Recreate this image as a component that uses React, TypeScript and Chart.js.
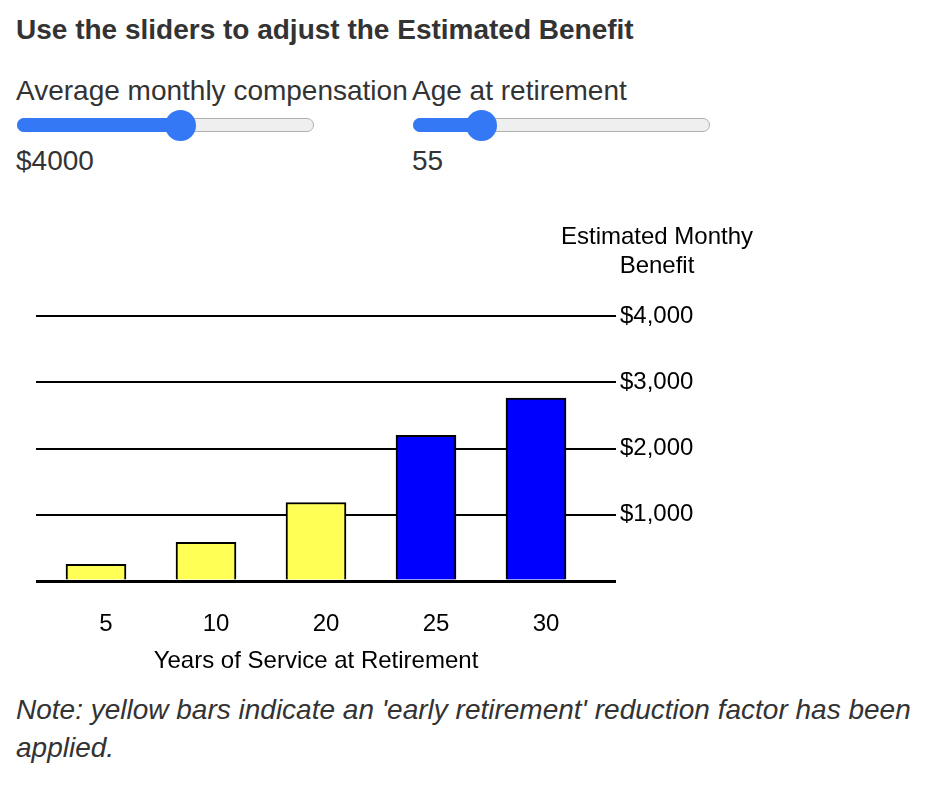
import React, { useEffect, useRef } from "react";
import { Chart, registerables } from "chart.js";

Chart.register(...registerables);

// ---- data ----
const yearsOfService = ["5", "10", "20", "25", "30"];
const monthlyBenefit = [250, 585, 1185, 2200, 2760];
const earlyRetirement = [true, true, true, false, false];
const yTickValues = [0, 1000, 2000, 3000, 4000];
const yAxisTitle = ["Estimated Monthy", "Benefit"];
const xAxisTitle = "Years of Service at Retirement";

const compensation = 4000;
const compensationRange = [1000, 6400];
const retirementAge = 55;
const retirementAgeRange = [50, 75];

const FONT = '"Liberation Sans", Arial, Helvetica, sans-serif';
const YELLOW = "#ffff55";
const BLUE = "#0000ff";

const yTitlePlugin = {
  id: "yTitleAbove",
  afterDraw(chart: any) {
    const { ctx, chartArea } = chart;
    const ys = chart.scales.y;
    ctx.save();
    ctx.font = `24px ${FONT}`;
    ctx.fillStyle = "#000";
    ctx.textAlign = "center";
    ctx.textBaseline = "alphabetic";
    const cx = ys.left + 61;
    yAxisTitle.forEach((line, i) => {
      ctx.fillText(line, cx, chartArea.top - 72 + i * 29);
    });
    ctx.restore();
  },
};

function Slider({ label, value, text, range, width }: any) {
  const trackW = 297;
  const thumbR = 15.5;
  const frac = (value - range[0]) / (range[1] - range[0]);
  const center = thumbR + frac * (trackW - 2 * thumbR);
  return (
    <div style={{ width, flex: "none" }}>
      <div style={{ whiteSpace: "nowrap", height: 32 }}>{label}</div>
      <div style={{ position: "relative", height: 36 }}>
        <div
          style={{
            position: "absolute",
            left: 1,
            top: 11,
            width: trackW,
            height: 14,
            borderRadius: 7,
            background: "#efefef",
            border: "1.5px solid #b0b0b0",
            boxSizing: "border-box",
          }}
        />
        <div
          style={{
            position: "absolute",
            left: 1,
            top: 11,
            width: center,
            height: 14,
            borderRadius: 7,
            background: "#3478f6",
          }}
        />
        <div
          style={{
            position: "absolute",
            left: 1 + center - thumbR,
            top: 18 - thumbR,
            width: thumbR * 2,
            height: thumbR * 2,
            borderRadius: "50%",
            background: "#3478f6",
          }}
        />
      </div>
      <div style={{ marginTop: 2, height: 32 }}>{text}</div>
    </div>
  );
}

function BenefitChart() {
  const ref = useRef<HTMLCanvasElement | null>(null);
  useEffect(() => {
    if (!ref.current) return;
    const tickFont = { family: FONT, size: 24 };
    const chart = new Chart(ref.current, {
      type: "bar",
      data: {
        datasets: [
          {
            data: yearsOfService.map((_, i) => ({ x: i + 1, y: monthlyBenefit[i] })) as any,
            backgroundColor: earlyRetirement.map((e) => (e ? YELLOW : BLUE)),
            borderColor: "#000",
            borderWidth: 2,
            barThickness: 60,
          },
        ],
      },
      options: {
        animation: false,
        responsive: false,
        layout: { padding: { left: 20, right: 76, top: 125, bottom: 15 } },
        plugins: { legend: { display: false }, tooltip: { enabled: false } },
        scales: {
          x: {
            type: "linear",
            offset: false,
            min: 1 - 60 / 110,
            max: 1 + 500 / 110,
            afterBuildTicks: (s: any) => {
              s.ticks = yearsOfService.map((_, i) => ({ value: i + 1 }));
            },
            afterFit: (s: any) => {
              s.height = 95;
            },
            ticks: {
              callback: (v: any) => yearsOfService[Math.round(v) - 1] ?? "",
              labelOffset: 10,
              padding: 29,
              color: "#000",
              font: tickFont,
              maxRotation: 0,
              autoSkip: false,
            },
            grid: { display: false, drawTicks: false },
            border: { display: false },
            title: {
              display: true,
              text: xAxisTitle,
              color: "#000",
              font: tickFont,
              padding: { top: 12, bottom: 0 },
            },
          },
          y: {
            position: "right",
            min: 0,
            max: 4000,
            afterBuildTicks: (s: any) => {
              s.ticks = yTickValues.map((v) => ({ value: v }));
            },
            afterFit: (s: any) => {
              s.width = 104;
            },
            ticks: {
              callback: (v: any) => (v === 0 ? "" : "$" + Number(v).toLocaleString("en-US")),
              padding: 4,
              color: "#000",
              font: tickFont,
            },
            grid: {
              color: "#000",
              lineWidth: (c: any) => (c.tick && c.tick.value === 0 ? 3 : 2),
              tickLength: 20,
              drawTicks: true,
            },
            border: { display: false },
          },
        },
      } as any,
      plugins: [yTitlePlugin],
    });
    return () => chart.destroy();
  }, []);
  return <canvas ref={ref} width={760} height={500} style={{ display: "block", width: 760, height: 500 }} />;
}

export default function App() {
  return (
    <div
      style={{
        padding: "6px 0 0 8px",
        fontFamily: FONT,
        fontSize: 28,
        color: "#333",
        lineHeight: "32px",
      }}
    >
      <div style={{ fontWeight: "bold", height: 32 }}>Use the sliders to adjust the Estimated Benefit</div>
      <div style={{ display: "flex", marginTop: 29 }}>
        <Slider
          label="Average monthly compensation"
          value={compensation}
          text={"$" + compensation}
          range={compensationRange}
          width={396}
        />
        <Slider
          label="Age at retirement"
          value={retirementAge}
          text={String(retirementAge)}
          range={retirementAgeRange}
          width={320}
        />
      </div>
      <div style={{ marginTop: 14 }}>
        <BenefitChart />
      </div>
      <div style={{ fontStyle: "italic", lineHeight: "38px" }}>
        Note: yellow bars indicate an 'early retirement' reduction factor has been applied.
      </div>
    </div>
  );
}
